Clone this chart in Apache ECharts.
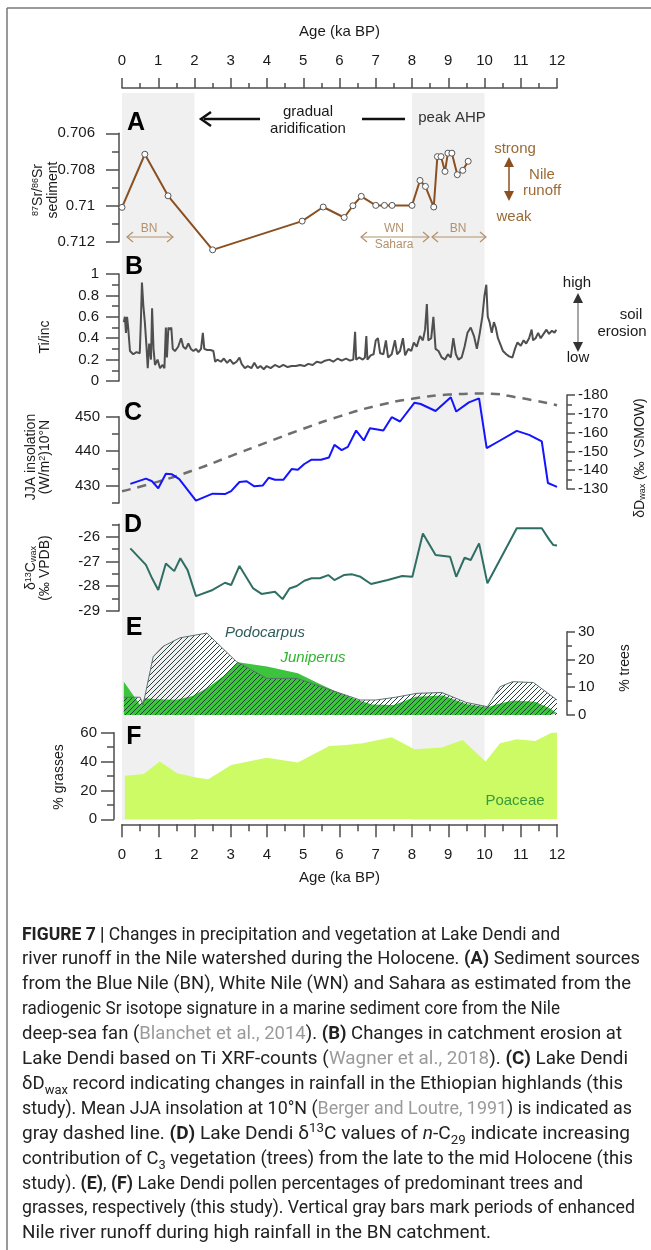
<!DOCTYPE html>
<html>
<head>
<meta charset="utf-8">
<script src="https://cdn.jsdelivr.net/npm/echarts@6/dist/echarts.min.js"></script>
<style>
  html, body { margin: 0; padding: 0; background: #fff; }
  #chart { position: absolute; left: 0; top: 0; width: 651px; height: 1250px; }
  #caption { position: absolute; left: 22px; top: 921.5px; font-family: Roboto, "Liberation Sans", Arial, sans-serif;
    font-size: 18px; line-height: 24.9px; color: #222; }
  #caption .ln { white-space: nowrap; width: max-content; transform-origin: 0 50%; }
  #caption .ref { color: #9a9a9a; }
  #caption sub, #caption sup { font-size: 70%; line-height: 0; }
</style>
</head>
<body>
<div id="chart"></div>
<div id="caption">
  <div class="ln" data-w="538"><b>FIGURE 7 |</b> Changes in precipitation and vegetation at Lake Dendi and</div>
  <div class="ln" data-w="618">river runoff in the Nile watershed during the Holocene. <b>(A)</b> Sediment sources</div>
  <div class="ln" data-w="609">from the Blue Nile (BN), White Nile (WN) and Sahara as estimated from the</div>
  <div class="ln" data-w="538">radiogenic Sr isotope signature in a marine sediment core from the Nile</div>
  <div class="ln" data-w="600">deep-sea fan (<span class="ref">Blanchet et al., 2014</span>). <b>(B)</b> Changes in catchment erosion at</div>
  <div class="ln" data-w="606">Lake Dendi based on Ti XRF-counts (<span class="ref">Wagner et al., 2018</span>). <b>(C)</b> Lake Dendi</div>
  <div class="ln" data-w="601">δD<sub>wax</sub> record indicating changes in rainfall in the Ethiopian highlands (this</div>
  <div class="ln" data-w="610">study). Mean JJA insolation at 10°N (<span class="ref">Berger and Loutre, 1991</span>) is indicated as</div>
  <div class="ln" data-w="608">gray dashed line. <b>(D)</b> Lake Dendi δ<sup>13</sup>C values of <i>n</i>-C<sub>29</sub> indicate increasing</div>
  <div class="ln" data-w="611">contribution of C<sub>3</sub> vegetation (trees) from the late to the mid Holocene (this</div>
  <div class="ln" data-w="561">study). <b>(E)</b>, <b>(F)</b> Lake Dendi pollen percentages of predominant trees and</div>
  <div class="ln" data-w="613">grasses, respectively (this study). Vertical gray bars mark periods of enhanced</div>
  <div class="ln" data-w="469">Nile river runoff during high rainfall in the BN catchment.</div>
</div>
<script>
// ---- data (age in ka BP) ----
const bands = [[0, 2], [8, 10]];

// A: 87Sr/86Sr
const srAge = [0.0, 0.63, 1.27, 2.5, 4.97, 5.55, 6.13, 6.37, 6.6, 7.0, 7.24, 7.45, 8.0, 8.22, 8.37, 8.6, 8.7, 8.8, 8.91, 8.99, 9.1, 9.25, 9.4, 9.55];
const srValue = [0.7101, 0.70716, 0.70946, 0.71245, 0.71086, 0.71008, 0.71066, 0.71001, 0.70949, 0.70999, 0.70999, 0.70999, 0.70999, 0.70861, 0.70894, 0.71008, 0.70729, 0.70729, 0.70811, 0.7071, 0.7071, 0.70829, 0.70805, 0.70755];

// B: Ti/inc
const tiInc = [
  [0.05,0.55],[0.08,0.60],[0.11,0.45],[0.14,0.60],[0.17,0.50],[0.22,0.28],[0.31,0.25],[0.40,0.27],[0.49,0.26],[0.52,0.55],
  [0.55,0.92],[0.59,0.70],[0.63,0.55],[0.68,0.30],[0.71,0.12],[0.75,0.35],[0.80,0.20],[0.83,0.68],[0.87,0.30],[0.91,0.15],
  [0.98,0.20],[1.05,0.12],[1.12,0.15],[1.17,0.12],[1.21,0.50],[1.24,0.22],[1.28,0.50],[1.32,0.48],[1.36,0.50],[1.40,0.30],
  [1.46,0.28],[1.55,0.32],[1.63,0.40],[1.69,0.32],[1.76,0.30],[1.83,0.35],[1.90,0.30],[1.97,0.28],[2.04,0.30],[2.11,0.27],
  [2.18,0.30],[2.23,0.45],[2.27,0.30],[2.35,0.29],[2.44,0.29],[2.52,0.28],[2.57,0.18],[2.63,0.20],[2.73,0.18],[2.81,0.21],
  [2.90,0.17],[2.98,0.20],[3.07,0.16],[3.16,0.18],[3.24,0.22],[3.30,0.16],[3.39,0.12],[3.47,0.14],[3.57,0.12],[3.65,0.17],
  [3.74,0.12],[3.82,0.14],[3.91,0.11],[3.99,0.14],[4.10,0.12],[4.22,0.15],[4.34,0.13],[4.45,0.15],[4.57,0.13],[4.68,0.14],
  [4.80,0.14],[4.91,0.15],[5.03,0.14],[5.14,0.16],[5.26,0.15],[5.37,0.18],[5.49,0.17],[5.60,0.19],[5.72,0.20],[5.83,0.18],
  [5.95,0.21],[6.06,0.19],[6.18,0.21],[6.29,0.19],[6.38,0.20],[6.43,0.46],[6.46,0.20],[6.54,0.22],[6.64,0.20],[6.70,0.22],
  [6.74,0.42],[6.77,0.20],[6.86,0.24],[6.94,0.25],[7.00,0.38],[7.06,0.40],[7.12,0.26],[7.21,0.25],[7.28,0.38],[7.34,0.22],
  [7.44,0.25],[7.53,0.38],[7.59,0.25],[7.67,0.28],[7.75,0.40],[7.81,0.24],[7.90,0.30],[7.98,0.28],[8.05,0.36],[8.13,0.32],
  [8.22,0.42],[8.30,0.38],[8.36,0.48],[8.41,0.72],[8.45,0.38],[8.53,0.40],[8.59,0.60],[8.65,0.30],[8.73,0.28],[8.82,0.22],
  [8.91,0.20],[8.99,0.25],[9.07,0.22],[9.14,0.40],[9.21,0.25],[9.28,0.20],[9.37,0.22],[9.45,0.32],[9.53,0.45],[9.62,0.50],
  [9.71,0.42],[9.79,0.30],[9.87,0.45],[9.94,0.60],[10.00,0.80],[10.05,0.90],[10.09,0.60],[10.14,0.55],[10.20,0.45],[10.26,0.55],
  [10.31,0.50],[10.37,0.40],[10.43,0.35],[10.51,0.28],[10.60,0.25],[10.68,0.23],[10.77,0.22],[10.84,0.30],[10.91,0.36],[11.00,0.33],
  [11.08,0.38],[11.15,0.35],[11.23,0.40],[11.30,0.48],[11.34,0.38],[11.41,0.40],[11.48,0.45],[11.55,0.40],[11.63,0.44],[11.71,0.48],
  [11.78,0.44],[11.86,0.47],[11.93,0.45],[11.98,0.48]
];

// C: JJA insolation 10°N (W/m2) and dD wax (permil VSMOW)
const insAge = [0, 1, 2, 3, 4, 5, 6, 7, 8, 9, 10, 11, 12];
const insValue = [428.4, 431.2, 434.6, 438.6, 442.6, 446.5, 450.1, 453.1, 455.2, 456.4, 456.7, 455.4, 453.3];
const dDwax = [
  [0.23,-132.7],[0.66,-135.5],[0.83,-134.1],[1.0,-130.4],[1.21,-138.1],[1.38,-137.8],[1.58,-135.3],[2.04,-123.8],
  [2.5,-127.5],[2.84,-127.3],[3.01,-128.9],[3.24,-133.7],[3.44,-134.1],[3.65,-131.4],[3.88,-131.8],[4.05,-136.0],
  [4.22,-134.9],[4.45,-134.9],[4.68,-140.6],[4.85,-140.2],[5.03,-143.3],[5.23,-145.6],[5.49,-145.6],[5.71,-146.8],
  [5.86,-153.5],[6.06,-150.7],[6.23,-152.4],[6.46,-161.1],[6.67,-155.8],[6.84,-162.3],[7.21,-161.1],[7.44,-168.2],
  [7.67,-165.9],[8.07,-175.9],[8.24,-175.2],[8.65,-171.5],[9.07,-178.8],[9.22,-171.2],[9.57,-176.1],[9.85,-178.2],
  [10.06,-151.7],[10.43,-155.8],[10.89,-160.9],[11.23,-158.8],[11.58,-155.3],[11.75,-133.2],[11.92,-131.8],[12.0,-131.1]
];

// D: d13C wax (permil VPDB)
const d13C = [
  [0.23,-26.47],[0.66,-27.14],[0.83,-27.68],[1.0,-28.15],[1.21,-27.08],[1.44,-27.39],[1.61,-26.87],[1.81,-27.35],
  [2.04,-28.40],[2.5,-28.15],[2.84,-27.86],[3.01,-27.95],[3.24,-27.18],[3.62,-28.09],[3.85,-28.31],[4.22,-28.22],
  [4.43,-28.52],[4.62,-28.09],[4.82,-27.99],[5.03,-27.78],[5.23,-27.68],[5.46,-27.68],[5.69,-27.55],[5.86,-27.75],
  [6.12,-27.55],[6.35,-27.52],[6.58,-27.62],[6.87,-27.91],[7.33,-27.75],[7.73,-27.59],[8.01,-27.62],[8.30,-25.87],
  [8.65,-26.74],[9.05,-26.81],[9.22,-27.62],[9.45,-26.85],[9.62,-26.94],[9.85,-26.27],[10.08,-27.88],[10.89,-25.66],
  [11.23,-25.66],[11.58,-25.66],[11.79,-26.13],[11.90,-26.34],[12.0,-26.36]
];

// E: % trees
const podocarpus = [
  [0.05,6.4],[0.5,6.4],[0.58,3.6],[0.86,21],[1.13,24.7],[1.6,27.8],[2.34,29.5],[3.16,19.2],[3.99,13.2],[4.82,13.2],
  [6.57,5.4],[7.0,5.4],[7.55,6.4],[8.13,7.8],[8.82,8.1],[9.5,4.5],[10.08,3.0],[10.43,10.2],[10.77,12.0],[11.35,11.7],[12.0,5.4]
];
const juniperus = [
  [0.05,12],[0.5,3.6],[0.62,6],[1.0,5.7],[1.5,5.5],[1.95,6.8],[2.4,10.2],[2.85,14.5],[3.2,19],[4.0,17.5],[4.85,15],
  [5.4,11.5],[5.9,8.5],[6.5,5.4],[6.9,3.8],[7.5,3.6],[8.1,6.6],[8.85,7.0],[9.5,4.0],[10.08,2.8],[10.45,4.2],[10.8,5.2],
  [11.4,4.8],[11.8,2.4],[12.0,0.6]
];

// F: % grasses
const poaceae = [
  [0.08,30.2],[0.6,31.4],[1.04,40],[1.52,31.9],[2.04,28.9],[2.38,27.7],[3.01,37.6],[3.99,42.7],[4.85,39.3],[5.72,50.8],
  [6.18,51.5],[6.64,52.7],[7.44,56.8],[8.07,48.5],[8.82,49.7],[9.4,55],[10.03,40],[10.43,52.7],[10.89,55.4],[11.4,54.3],[12.0,61.9]
];

// ---- styling ----
const FONT = '"Liberation Sans", Arial, Helvetica, sans-serif';
const AX = '#4d4d4d';
const TXT = '#1a1a1a';
const L = 122, W = 435;

function hatch() {
  const c = document.createElement('canvas');
  c.width = 5; c.height = 5;
  const g = c.getContext('2d');
  g.strokeStyle = '#24403a';
  g.lineWidth = 1;
  g.beginPath();
  g.moveTo(0, 5); g.lineTo(5, 0);
  g.moveTo(-1, 1); g.lineTo(1, -1);
  g.moveTo(4, 6); g.lineTo(6, 4);
  g.stroke();
  return c;
}

function xAx(grid, o) {
  if (!o) return { gridIndex: grid, type: 'value', min: 0, max: 12, show: false };
  return {
    gridIndex: grid, type: 'value', min: 0, max: 12, interval: 1, position: o.pos, offset: o.offset || 0,
    splitLine: { show: false },
    axisLine: { show: true, onZero: false, lineStyle: { color: AX, width: 1.5 } },
    axisTick: { show: true, length: o.tick, lineStyle: { color: AX, width: 1.5 } },
    minorTick: { show: true, splitNumber: 2, length: o.minor, lineStyle: { color: AX, width: 1.5 } },
    axisLabel: { margin: o.margin, fontSize: 15, color: TXT, fontFamily: FONT },
    name: 'Age (ka BP)', nameLocation: 'middle', nameGap: o.nameGap,
    nameTextStyle: { fontSize: 15, color: TXT, fontFamily: FONT }
  };
}

function yAx(grid, o) {
  if (!o) return { gridIndex: grid, type: 'value', min: 0, max: 1, show: false };
  return {
    gridIndex: grid, type: 'value', min: o.min, max: o.max, interval: o.interval,
    inverse: !!o.inverse, position: o.pos || 'left', offset: o.offset || 0,
    splitLine: { show: false },
    axisLine: { show: o.line !== false, onZero: false, lineStyle: { color: AX, width: 1.5 } },
    axisTick: { show: true, length: o.tick || 13, customValues: o.ticks, lineStyle: { color: AX, width: 1.5 } },
    minorTick: { show: !!o.minor, splitNumber: 2, length: o.minor || 7, lineStyle: { color: AX, width: 1.5 } },
    axisLabel: { show: o.label !== false, margin: o.margin || 20, customValues: o.labels,
      fontSize: 15, color: TXT, fontFamily: FONT }
  };
}

function txt(x, y, text, o = {}) {
  return {
    type: 'text', x, y, rotation: o.rot || 0, z: 100, silent: true,
    style: {
      text, fontSize: o.size || 15, fontFamily: FONT, fontWeight: o.weight || 'normal',
      fontStyle: o.italic ? 'italic' : 'normal', fill: o.color || TXT,
      align: o.align || 'center', verticalAlign: 'middle', lineHeight: o.lh, rich: o.rich
    }
  };
}
function seg(x1, y1, x2, y2, color, w) {
  return { type: 'line', z: 100, silent: true, shape: { x1, y1, x2, y2 }, style: { stroke: color, lineWidth: w } };
}
function poly(points, color, w) {
  return { type: 'polyline', z: 100, silent: true, shape: { points }, style: { stroke: color, lineWidth: w, fill: null } };
}
function tri(points, color) {
  return { type: 'polygon', z: 100, silent: true, shape: { points }, style: { fill: color } };
}
function dblArrowH(x1, x2, y, color) {
  return [
    seg(x1, y, x2, y, color, 1.2),
    poly([[x1 + 6, y - 5], [x1, y], [x1 + 6, y + 5]], color, 1.2),
    poly([[x2 - 6, y - 5], [x2, y], [x2 - 6, y + 5]], color, 1.2)
  ];
}
function dblArrowV(x, y1, y2, lineColor, headColor) {
  return [
    seg(x, y1 + 6, x, y2 - 6, lineColor, 1.5),
    tri([[x, y1], [x - 5, y1 + 10], [x + 5, y1 + 10]], headColor),
    tri([[x, y2], [x - 5, y2 - 10], [x + 5, y2 - 10]], headColor)
  ];
}

const SR = '#8a5022';
const SRTXT = '#9c6a35';
const TAN = '#b3916b';
const supRich = {
  sup: { fontSize: 9, verticalAlign: 'top', fontFamily: FONT, fill: TXT },
  sub: { fontSize: 9, verticalAlign: 'bottom', fontFamily: FONT, fill: TXT }
};

const graphic = [
  seg(7, 8, 651, 8, '#777', 1.5),
  seg(7, 8, 7, 1250, '#777', 1.5),
  // panel letters
  txt(136, 123, 'A', { size: 25, weight: 'bold', color: '#000' }),
  txt(134, 267, 'B', { size: 25, weight: 'bold', color: '#000' }),
  txt(133, 413, 'C', { size: 25, weight: 'bold', color: '#000' }),
  txt(133, 525, 'D', { size: 25, weight: 'bold', color: '#000' }),
  txt(134, 628, 'E', { size: 25, weight: 'bold', color: '#000' }),
  txt(134, 737, 'F', { size: 25, weight: 'bold', color: '#000' }),
  // panel A annotations
  seg(204, 119, 260, 119, '#111', 2.5),
  poly([[211, 112], [201, 119], [211, 126]], '#111', 2.5),
  txt(308, 112, 'gradual'),
  txt(308, 129, 'aridification'),
  seg(362, 119, 405, 119, '#111', 2.5),
  txt(452, 118, 'peak AHP', { color: '#333' }),
  txt(515, 149, 'strong', { color: SRTXT }),
  txt(542, 175, 'Nile', { color: SRTXT }),
  txt(542, 191, 'runoff', { color: SRTXT }),
  txt(514, 217, 'weak', { color: SRTXT }),
  ...dblArrowV(509, 157, 201, SR, SR),
  ...dblArrowH(127, 173, 237, TAN),
  ...dblArrowH(361, 429, 237, TAN),
  ...dblArrowH(432, 486, 237, TAN),
  txt(149, 229, 'BN', { size: 12, color: TAN }),
  txt(394, 229, 'WN', { size: 12, color: TAN }),
  txt(394, 245, 'Sahara', { size: 12, color: TAN }),
  txt(458, 229, 'BN', { size: 12, color: TAN }),
  // panel B annotations
  txt(577, 283, 'high'),
  txt(578, 358, 'low'),
  txt(631, 315, 'soil'),
  txt(622, 332, 'erosion'),
  ...dblArrowV(578, 293, 352, '#8a8a8a', '#333'),
  // E / F labels
  txt(265, 633, 'Podocarpus', { italic: true, color: '#2e5c5c' }),
  txt(313, 658, 'Juniperus', { italic: true, color: '#2db52d' }),
  txt(515, 801, 'Poaceae', { color: '#3a9a3a' }),
  // axis titles (rotated)
  txt(46, 190, '{sup|87}Sr/{sup|86}Sr\nsediment', { size: 14, lh: 15, rot: Math.PI / 2, rich: supRich }),
  txt(45, 337, 'Ti/inc', { size: 14, rot: Math.PI / 2 }),
  txt(38, 457, 'JJA insolation\n(W/m{sup|2})10°N', { size: 14, lh: 14, rot: Math.PI / 2, rich: supRich }),
  txt(640, 458, 'δD{sub|wax} (‰ VSMOW)', { size: 14, rot: Math.PI / 2, rich: supRich }),
  txt(38, 568, 'δ{sup|13}C{sub|wax}\n(‰ VPDB)', { size: 14, lh: 14, rot: Math.PI / 2, rich: supRich }),
  txt(625, 668, '% trees', { size: 14, rot: Math.PI / 2 }),
  txt(59, 777, '% grasses', { size: 14, rot: Math.PI / 2 })
];

const chart = echarts.init(document.getElementById('chart'));
chart.setOption({
  animation: false,
  textStyle: { fontFamily: FONT },
  grid: [
    { left: L, width: W, top: 88, height: 1 },          // 0 top axis
    { left: L, width: W, top: 93, height: 727 },        // 1 bands
    { left: L, width: W, top: 133.3, height: 108.4 },   // 2 A
    { left: L, width: W, top: 274, height: 107 },       // 3 B
    { left: L, width: W, top: 416.7, height: 86.3 },    // 4 C insolation
    { left: L, width: W, top: 395, height: 94 },        // 5 C dD
    { left: L, width: W, top: 524.3, height: 86.7 },    // 6 D
    { left: L, width: W, top: 631.7, height: 83.3 },    // 7 E
    { left: L, width: W, top: 732.7, height: 86.6 }     // 8 F
  ],
  xAxis: [
    xAx(0, { pos: 'top', tick: 10, minor: 5, margin: 20, nameGap: 49 }),
    xAx(1), xAx(2), xAx(3), xAx(4), xAx(5), xAx(6), xAx(7),
    xAx(8, { pos: 'bottom', offset: 5, tick: 13, minor: 7, margin: 23, nameGap: 46 })
  ],
  yAxis: [
    yAx(0),
    yAx(1),
    yAx(2, { min: 0.706, max: 0.712, interval: 0.002, inverse: true, offset: 3, minor: 7, margin: 24 }),
    yAx(3, { min: 0, max: 1, interval: 0.2, offset: 3, minor: 7, margin: 20 }),
    yAx(4, { min: 425, max: 450, offset: 3, margin: 19, ticks: [430, 440, 450], labels: [430, 440, 450] }),
    yAx(4, { min: 425, max: 450, offset: 3, line: false, label: false, tick: 7, ticks: [425, 435, 445] }),
    yAx(5, { min: -180, max: -130, interval: 10, inverse: true, pos: 'right', offset: 10, tick: 8, minor: 5, margin: 11 }),
    yAx(6, { min: -29, max: -25.5, offset: 3, margin: 19, ticks: [-29, -28, -27, -26], labels: [-29, -28, -27, -26] }),
    yAx(6, { min: -29, max: -25.5, offset: 3, line: false, label: false, tick: 7, ticks: [-28.5, -27.5, -26.5, -25.5] }),
    yAx(7, { min: 0, max: 30, interval: 10, pos: 'right', offset: 10, tick: 8, minor: 5, margin: 11 }),
    yAx(8, { min: 0, max: 60, interval: 20, offset: 8, minor: 7, margin: 17 })
  ],
  series: [
    {
      type: 'line', xAxisIndex: 1, yAxisIndex: 1, data: [], silent: true, z: 0,
      markArea: { silent: true, itemStyle: { color: '#f0f0f0' }, data: bands.map(b => [{ xAxis: b[0] }, { xAxis: b[1] }]) }
    },
    {
      name: '87Sr/86Sr', type: 'line', xAxisIndex: 2, yAxisIndex: 2,
      data: srAge.map((a, i) => [a, srValue[i]]),
      symbol: 'circle', symbolSize: 6, clip: false,
      itemStyle: { color: '#fff', borderColor: '#555', borderWidth: 1 },
      lineStyle: { color: SR, width: 2 }, z: 5
    },
    {
      name: 'Ti/inc', type: 'line', xAxisIndex: 3, yAxisIndex: 3, data: tiInc,
      symbol: 'none', lineStyle: { color: '#4f4f4f', width: 2 }
    },
    {
      name: 'JJA insolation', type: 'line', xAxisIndex: 4, yAxisIndex: 4,
      data: insAge.map((a, i) => [a, insValue[i]]), smooth: true, clip: false,
      symbol: 'none', lineStyle: { color: '#6e6e6e', width: 2.5, type: [9, 7] }
    },
    {
      name: 'dD wax', type: 'line', xAxisIndex: 5, yAxisIndex: 6, data: dDwax, clip: false,
      symbol: 'none', lineStyle: { color: '#1414ff', width: 2 }
    },
    {
      name: 'd13C wax', type: 'line', xAxisIndex: 6, yAxisIndex: 7, data: d13C, clip: false,
      symbol: 'none', lineStyle: { color: '#2f6e63', width: 2 }
    },
    {
      name: 'Juniperus', type: 'line', xAxisIndex: 7, yAxisIndex: 9, data: juniperus,
      symbol: 'none', lineStyle: { width: 0 }, areaStyle: { color: '#3cc43c', opacity: 1 }
    },
    {
      name: 'Podocarpus', type: 'line', xAxisIndex: 7, yAxisIndex: 9, data: podocarpus,
      symbol: 'none', lineStyle: { color: '#5d7070', width: 1 },
      areaStyle: { color: { image: hatch(), repeat: 'repeat' }, opacity: 1 }
    },
    {
      name: 'Poaceae', type: 'line', xAxisIndex: 8, yAxisIndex: 10, data: poaceae,
      symbol: 'none', lineStyle: { width: 0 }, areaStyle: { color: '#ccfb66', opacity: 1 }
    }
  ],
  graphic: graphic
});

function fitCaption() {
  document.querySelectorAll('#caption .ln').forEach(el => {
    el.style.transform = 'none';
    const w = el.getBoundingClientRect().width;
    el.style.transform = 'scaleX(' + (+el.dataset.w / w).toFixed(4) + ')';
  });
}
fitCaption();
if (document.fonts && document.fonts.ready) document.fonts.ready.then(fitCaption);
</script>
</body>
</html>
